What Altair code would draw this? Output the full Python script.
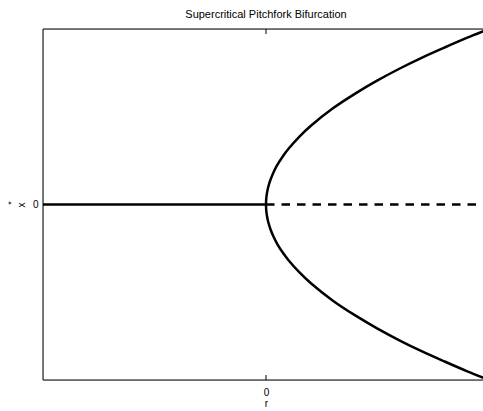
import altair as alt
import pandas as pd

# Equilibria of dx/dt = r*x - x^3
r_stable_zero = [-1.0, 0.0]
x_stable_zero = [0.0, 0.0]

r_unstable_zero = [0.0, 1.0]
x_unstable_zero = [0.0, 0.0]

branch_r = [0.0, 0.001, 0.004, 0.01, 0.02, 0.035, 0.05, 0.075, 0.1, 0.15, 0.2,
            0.3, 0.4, 0.5, 0.6, 0.7, 0.8, 0.9, 1.0]
upper_x = [0.0, 0.032, 0.063, 0.100, 0.141, 0.187, 0.224, 0.274, 0.316, 0.387, 0.447,
           0.548, 0.632, 0.707, 0.775, 0.837, 0.894, 0.949, 1.0]
lower_x = [0.0, -0.032, -0.063, -0.100, -0.141, -0.187, -0.224, -0.274, -0.316, -0.387, -0.447,
           -0.548, -0.632, -0.707, -0.775, -0.837, -0.894, -0.949, -1.0]

x_ticks = [0]
y_ticks = [0]

R_MIN, R_MAX = -1.0, 0.973
W, H = 440, 351
FONT = "Liberation Sans"

zero_stable = pd.DataFrame({"r": r_stable_zero, "x": x_stable_zero})
zero_unstable = pd.DataFrame({"r": r_unstable_zero, "x": x_unstable_zero})
branches = pd.concat([
    pd.DataFrame({"r": branch_r, "x": upper_x, "branch": "upper", "i": range(len(branch_r))}),
    pd.DataFrame({"r": branch_r, "x": lower_x, "branch": "lower", "i": range(len(branch_r))}),
])

x_enc = alt.X("r:Q", scale=alt.Scale(domain=[R_MIN, R_MAX], nice=False, zero=False),
              axis=alt.Axis(values=x_ticks, format="d", title="r", tickSize=0, domain=False,
                            grid=False, labelPadding=7, labelFontSize=10, titleFontSize=10,
                            titleFontWeight="normal", titlePadding=1, titleX=223))
y_enc = alt.Y("x:Q", scale=alt.Scale(domain=[-1, 1], nice=False, zero=False),
              axis=alt.Axis(values=y_ticks, format="d", title="x", tickSize=0, domain=False,
                            grid=False, labelPadding=5, labelFontSize=10, titleFontSize=10,
                            titleFontWeight="normal", titlePadding=6))

stable = alt.Chart(zero_stable).mark_line(color="black", strokeWidth=2.5, clip=True).encode(
    x=x_enc, y=y_enc)
unstable = alt.Chart(zero_unstable).mark_line(
    color="black", strokeWidth=2.5, strokeDash=[8.5, 7], clip=True).encode(x="r:Q", y="x:Q")
curve = alt.Chart(branches).mark_line(
    color="black", strokeWidth=2.5, clip=True, interpolate="catmull-rom").encode(
    x="r:Q", y="x:Q", detail="branch:N", order="i:Q")

# frame on the left, top and bottom edges
frame = alt.Chart(pd.DataFrame({"k": [0]})).mark_rule(color="black", strokeWidth=1)
left_edge = frame.encode(x=alt.value(0), y=alt.value(0), y2=alt.value(H))
top_edge = frame.encode(x=alt.value(0), x2=alt.value(W), y=alt.value(0))
bottom_edge = frame.encode(x=alt.value(0), x2=alt.value(W), y=alt.value(H))

# inward tick marks at r = 0
tick_data = pd.DataFrame({"r": x_ticks})
top_tick = alt.Chart(tick_data).mark_rule(color="black", strokeWidth=1).encode(
    x="r:Q", y=alt.value(0), y2=alt.value(5))
bottom_tick = alt.Chart(tick_data).mark_rule(color="black", strokeWidth=1).encode(
    x="r:Q", y=alt.value(H - 5), y2=alt.value(H))

star = alt.Chart(pd.DataFrame({"k": [0]})).mark_text(
    text="*", font=FONT, fontSize=9, angle=270).encode(x=alt.value(-32), y=alt.value(174))

chart = alt.layer(
    stable, unstable, curve, left_edge, top_edge, bottom_edge, top_tick, bottom_tick, star
).properties(
    width=W, height=H,
    title=alt.TitleParams("Supercritical Pitchfork Bifurcation", fontSize=11,
                          fontWeight="normal", font=FONT, anchor="middle", dx=3, offset=9),
    autosize=alt.AutoSizeParams(type="none"),
    padding={"left": 43, "top": 29, "right": 0, "bottom": 30},
).configure_view(stroke=None).configure(font=FONT).configure_axis(
    labelFont=FONT, titleFont=FONT, labelColor="black", titleColor="black")

chart.save("out.html", embed_options={"renderer": "svg", "actions": False})
